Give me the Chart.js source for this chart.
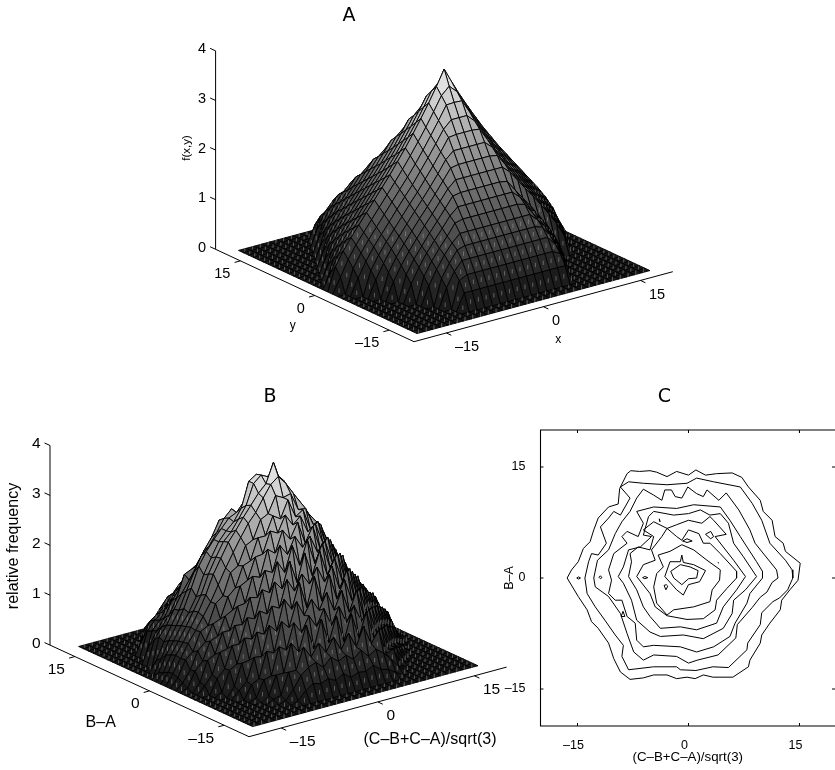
<!DOCTYPE html>
<html><head><meta charset="utf-8">
<style>html,body{margin:0;padding:0;background:#fff;width:835px;height:770px;overflow:hidden}canvas{position:absolute}</style>
<script src="https://cdn.jsdelivr.net/npm/chart.js@4"></script></head>
<body>
<canvas id="a" width="835" height="375" style="left:0;top:0"></canvas>
<canvas id="b" width="535" height="390" style="left:0;top:380px"></canvas>
<canvas id="c" width="335" height="390" style="left:500px;top:380px"></canvas>
<script>
const panelTitles=['A','B','C'];
const zTicks=[0,1,2,3,4];
const xyTicks=[-15,0,15];
const xyTickLabels=['–15','0','15'];
const labelA={x:'x',y:'y',z:'f(x,y)'};
const labelB={x:'(C–B+C–A)/sqrt(3)',y:'B–A',z:'relative frequency'};
// panel A heights (hundredths), one quadrant: rows |y| = 0..15, columns |x|/1.2 = 0..15
const quadrantA=[
[386,355,326,299,273,248,225,202,181,160,139,118,97,74,47,0],
[356,341,313,286,261,237,214,192,171,150,129,108,87,62,30,0],
[328,327,300,274,249,225,203,182,161,140,119,98,75,48,0,0],
[302,302,287,262,238,215,192,172,151,130,109,88,63,33,0,0],
[277,277,275,250,226,204,182,162,141,120,99,76,49,0,0,0],
[253,253,253,239,215,193,172,152,131,110,89,64,35,0,0,0],
[230,230,230,227,205,183,162,142,121,100,77,50,0,0,0,0],
[208,208,208,208,194,173,152,132,111,89,65,36,0,0,0,0],
[187,187,187,187,184,163,142,122,100,78,51,0,0,0,0,0],
[167,167,167,167,167,153,132,112,91,66,37,0,0,0,0,0],
[147,147,147,147,147,143,121,101,79,52,0,0,0,0,0,0],
[127,127,127,127,127,127,112,92,67,38,0,0,0,0,0,0],
[107,107,107,107,107,107,102,80,53,0,0,0,0,0,0,0],
[86,86,86,86,86,86,86,68,39,0,0,0,0,0,0,0],
[62,62,62,62,62,62,62,54,0,0,0,0,0,0,0,0],
[34,34,34,34,34,34,34,34,0,0,0,0,0,0,0,0]];
// panel B heights (hundredths): rows y = 15..-15, columns x/1.2 = -14..14
const surfaceB=[
[0,0,0,0,0,0,0,0,15,20,12,25,18,22,14,20,16,24,12,20,15,0,0,0,0,0,0,0,0],
[0,0,0,0,0,0,15,48,58,66,52,70,60,68,55,72,60,66,52,68,58,50,12,0,0,0,0,0,0],
[0,0,0,0,0,10,42,72,85,78,92,80,88,75,94,82,90,76,88,80,86,70,40,8,0,0,0,0,0],
[0,0,0,0,45,55,75,94,100,108,96,112,104,118,98,110,120,100,112,98,102,78,50,28,4,0,0,0,0],
[0,0,0,30,62,72,84,104,122,125,138,118,132,145,122,135,150,120,140,128,115,88,66,40,14,0,0,0,0],
[0,0,0,50,68,80,98,118,132,142,152,130,160,148,172,140,165,150,135,138,112,96,76,52,25,0,0,0,0],
[0,0,0,55,72,95,112,128,145,165,178,165,190,170,185,168,192,172,180,150,125,108,88,68,42,16,0,0,0],
[0,0,35,60,82,112,132,150,165,188,205,190,212,195,215,188,208,192,205,168,142,116,100,78,54,28,0,0,0],
[0,0,50,72,92,122,165,172,182,205,232,215,238,222,235,210,240,218,212,182,158,122,106,84,68,40,12,0,0],
[0,0,60,80,108,135,158,182,210,232,262,262,248,270,252,268,245,240,222,190,172,135,118,96,76,52,28,0,0],
[0,22,55,84,110,145,178,208,222,245,270,285,270,288,272,290,265,258,232,205,190,152,122,108,84,66,38,12,0],
[0,30,62,88,118,155,195,220,240,258,275,282,300,288,305,285,298,275,252,222,198,168,136,118,96,78,52,26,0],
[10,42,66,92,114,142,182,212,240,258,272,295,345,355,340,350,312,290,262,232,205,178,150,122,105,86,66,38,8],
[15,46,70,95,122,150,188,218,245,260,282,305,345,358,350,352,335,298,272,240,215,185,158,130,110,90,70,42,12],
[20,50,72,98,124,155,192,220,248,268,290,310,330,345,384,338,325,302,278,248,222,195,170,135,115,94,72,46,15],
[22,48,74,96,120,145,175,205,232,258,282,300,325,348,360,342,318,295,270,250,225,190,162,130,112,92,70,44,18],
[18,50,62,98,106,146,158,200,210,246,254,290,298,330,322,326,290,288,252,248,204,190,142,133,100,96,58,46,10],
[12,34,68,82,114,120,160,174,214,220,262,262,298,288,322,284,294,250,262,214,208,158,152,110,112,76,68,28,10],
[6,36,52,88,94,130,138,182,190,232,234,276,268,300,276,290,254,266,224,226,176,172,126,124,88,88,48,36,2],
[0,18,58,66,106,106,150,152,202,196,248,236,278,256,286,240,270,220,240,184,196,134,146,92,104,60,58,16,0],
[0,16,34,74,78,120,118,168,164,214,206,256,234,266,240,258,222,240,192,208,150,158,106,114,72,72,30,14,0],
[0,0,30,46,88,88,136,130,184,174,232,206,256,212,260,208,244,192,216,160,172,116,126,80,84,42,26,0,0],
[0,0,8,48,56,104,98,150,140,200,182,234,186,242,192,238,186,214,166,186,126,138,90,94,50,44,6,0,0],
[0,0,0,20,62,64,116,108,160,152,205,178,208,184,214,180,208,158,192,130,150,96,104,58,54,16,0,0,0],
[0,0,0,16,30,74,72,130,114,174,150,200,145,204,150,200,146,182,135,155,102,112,64,62,26,12,0,0,0],
[0,0,0,0,28,36,86,80,138,122,170,138,166,140,172,132,168,120,160,100,118,68,74,30,20,0,0,0,0],
[0,0,0,0,6,38,42,96,86,136,112,142,116,148,110,144,108,138,102,122,72,78,36,30,2,0,0,0,0],
[0,0,0,0,0,10,48,48,104,82,132,80,136,84,134,78,130,78,126,70,86,38,38,6,0,0,0,0,0],
[0,0,0,0,0,8,12,54,54,96,72,96,74,100,70,100,68,106,66,90,38,44,6,0,0,0,0,0,0],
[0,0,0,0,0,0,6,24,48,60,66,52,68,56,64,52,66,50,60,48,32,14,0,0,0,0,0,0,0],
[0,0,0,0,0,0,0,6,22,32,28,34,26,36,24,30,28,36,24,20,10,0,0,0,0,0,0,0,0]];
// panel C contour lines in data units
const contour1=[[-16.4,0],[-15.8,1.1],[-14.9,2.2],[-14.2,4],[-13.3,4.9],[-12.8,6.5],[-12.2,8.1],[-10.8,9.6],[-9.5,10],[-9.3,12.1],[-8.3,14.1],[-7.8,14.5],[-6.6,14.4],[-5.2,14.5],[-4.3,14.3],[-2.9,13.7],[-1.6,14.4],[0,13.9],[1,14.6],[2.3,13.9],[3.8,14.1],[5.9,14.2],[7.2,13.6],[8.1,12.3],[9.7,10.5],[10.1,9],[11.3,7.8],[11.7,5.6],[12.8,4.7],[13.1,3.6],[15.1,2],[14.8,-.3],[13.7,-1.6],[12.6,-3],[12.4,-4.3],[11,-6.1],[9.9,-7.7],[9.7,-8.8],[8.3,-11.1],[8.1,-12],[6,-13.4],[3.3,-13.4],[2,-13.1],[.9,-13.6],[-.2,-13.4],[-1.6,-13.6],[-2.9,-13.1],[-4.7,-13.1],[-6.1,-13.5],[-7.9,-13.7],[-9.2,-12.7],[-10.1,-10.9],[-10.8,-8.8],[-12.2,-6.8],[-13.1,-5.9],[-13.7,-4.3],[-14.9,-2.5]];
const contour2=[[-14,0],[-13.5,2.2],[-13.1,3.3],[-12.2,3.1],[-11.1,4.7],[-11.9,6.9],[-10.8,8.1],[-10.1,9],[-9.2,8.5],[-7.9,10.8],[-9.2,12.3],[-8.1,13],[-6.1,12.8],[-2.9,12.6],[-.2,12.8],[1.1,13.5],[3.4,13],[7,12.3],[8.6,10.1],[9.9,7.8],[11,4.7],[13.1,2.4],[14,1.1],[14.1,0],[13.4,-1.6],[12.3,-2.7],[11.4,-3.2],[9.9,-4.7],[9.7,-6.3],[8,-8.8],[7.9,-9.7],[5.4,-12.1],[3.3,-12],[1,-12.5],[-1.1,-12.4],[-1.6,-12],[-4.7,-12],[-8.1,-12.4],[-9,-10.6],[-8.8,-9.1],[-9.9,-7.7],[-11.3,-5.7],[-12.6,-3.9],[-13.7,-2.1]];
const contour3=[[-12.8,0],[-12.3,2.4],[-10.8,3.8],[-9.9,6],[-9,7.6],[-7.9,9],[-7,10.8],[-6.1,12],[-4.7,11.2],[-3.6,10.5],[-3.2,11.9],[-2.3,11.9],[-1.8,11],[-.9,10.8],[-.1,12.3],[1.1,11.4],[2,11],[2.5,11.9],[4.1,10.5],[5.1,11.5],[6.8,9.2],[8.3,6.5],[9,4.7],[11.9,1.1],[12.1,0],[11.3,-.6],[10.6,-1.9],[9.7,-2.6],[8.6,-4],[6.6,-6.3],[6.4,-8.1],[4,-10.4],[1.2,-11.1],[0,-11.5],[-1.6,-10.6],[-4.7,-10.4],[-6.1,-11.1],[-7.4,-10],[-8.3,-7.5],[-9.2,-4.8],[-10.8,-2.5],[-12.6,-1.2]];
const contour4=[[-10.8,-2.1],[-10.4,-.3],[-10.8,1.1],[-10.1,3.3],[-8.3,4.7],[-9,5.6],[-8.3,6.3],[-6.8,5.6],[-6.1,7.4],[-7,9],[-4.7,9.6],[-1.6,9.4],[.7,9.9],[4.3,9.6],[5.6,7.8],[7,5.6],[7.9,4.2],[9.2,2.2],[10,.9],[10,0],[8.3,-2.1],[7.9,-3.4],[6.3,-6.1],[5.6,-7.9],[3.4,-9.3],[1.1,-10],[-1.1,-9.3],[-4.7,-9.1],[-6.1,-9.3],[-7,-8.4],[-7.2,-6.1],[-8.3,-5.2],[-9,-3],[-9.9,-3]];
const contour5=[[-9.5,.2],[-8.8,1.5],[-8.1,3.8],[-6.5,4.2],[-5,5.6],[-6.1,5.8],[-5.4,8.3],[-4.7,9],[-2,8.5],[0,8.7],[1.6,9.2],[2.9,8.5],[4.3,8.7],[5.4,7.4],[6.1,4.7],[7.4,2.9],[9.2,.2],[7.7,-1.6],[6.1,-3],[5.9,-4.8],[4.7,-6.8],[2,-8.2],[-.7,-7.7],[-3.8,-7.9],[-5.2,-7.3],[-7,-5.7],[-7.7,-3],[-8.8,-.7]];
const contour6=[[-8.1,.2],[-7.7,2.2],[-7.9,3.3],[-6.8,4.2],[-5.2,3.8],[-4.7,5.6],[-6.1,6.5],[-4.7,7.6],[-2.9,6.7],[-1.6,7.2],[0,7.8],[1.8,7.4],[2.9,8.3],[3.4,7.8],[5.1,5.9],[3.6,5.6],[6.1,2.4],[7.7,.2],[6.5,-1.6],[4.7,-3.9],[3.8,-6.1],[1.1,-7],[-1.1,-6.6],[-3.8,-6.8],[-5.2,-5.2],[-6.1,-3.9],[-7,-1.6]];
const contour7=[[-7,.2],[-6.1,1.8],[-4.5,2.4],[-5,3.8],[-3.6,5.6],[-2.9,6.7],[-1.6,5.6],[-.9,5.1],[0,6.5],[1.4,6],[2,4.7],[2.9,4.7],[4.3,3.3],[6.5,.9],[6.5,0],[5.2,-1.4],[3.8,-3],[3.6,-4.3],[2,-5.5],[-.2,-5.6],[-2.9,-5.1],[-4.5,-3.9],[-5.2,-2.1]];
const contour8=[[-4.3,.6],[-3.4,1.5],[-4.1,3.1],[-2.5,3.6],[-.9,4.5],[.7,3.8],[2.5,2.4],[4.3,1.1],[4.2,-.3],[3.2,-1.6],[2.9,-3.2],[.7,-3.9],[-2,-4.3],[-2.9,-5],[-4.3,-3.4],[-4.7,-1.2]];
const contour9=[[-3.2,.2],[-2.5,2.2],[-1.1,2.2],[-.9,3.1],[-.7,2.1],[.7,1.8],[2.3,1],[1.5,-.5],[0,-.9],[-.7,-2.3],[-1.6,-1.6]];
const contour10=[[-2.4,.9],[-1.1,1.8],[.2,1.5],[1.3,1],[1.1,0],[0,-.1],[-.9,-.9],[-2,0]];
const islands=[
[[-15.1,0],[-14.85,.15],[-14.6,0],[-14.85,-.15]],
[[-12.1,.1],[-11.9,.3],[-11.7,.05],[-11.9,-.1]],
[[-9.1,-5.2],[-8.85,-4.5],[-8.6,-5.2]],
[[-6.2,.05],[-5.9,.2],[-5.5,.05],[-5.9,-.1]],
[[-3.95,8],[-3.85,7.6]],
[[-3.3,-1],[-3,-.9],[-2.8,-1.1],[-3.05,-1.6]],
[[-.8,5],[-.2,5.3],[.5,5],[-.2,4.8]],
[[2.3,5.9],[3,6.3],[3.4,5.6],[3,5.3]],
[[4,2.1],[4.1,2]]];

const sans='"Liberation Sans", Arial, sans-serif';
const makeView=(o,ex,ey,ez)=>(x,y,z)=>({x:o[0]+ex[0]*x+ey[0]*y,y:o[1]+ex[1]*x+ey[1]*y+ez*z});
const shade=z=>{const g=Math.round(255*(0.09+0.86*Math.pow(Math.min(z/3.86,1),1.22)));return `rgb(${g},${g},${g})`;};
const poly=(pts,o)=>Object.assign({data:pts,showLine:true,pointRadius:0,borderColor:'#000',borderWidth:1,tension:0,fill:false,clip:false},o||{});

function surface(view,xs,ys,zAt){
  const out=[];
  for(let j=ys.length-2;j>=0;j--){
    const seams=[];const row=[];
    for(let i=xs.length-2;i>=0;i--){
      const c=[[i,j],[i+1,j],[i+1,j+1],[i,j+1]];
      const zs=c.map(([a,b])=>zAt(a,b));
      const pts=c.map(([a,b],k)=>view(xs[a],ys[b],zs[k]));
      pts.push(pts[0]);
      const avg=(zs[0]+zs[1]+zs[2]+zs[3])/4;
      row.push(poly(pts,{fill:'shape',backgroundColor:shade(avg),borderWidth:0.9,borderJoinStyle:'round'}));
      if(avg<1.2){const m=view((xs[i]+xs[i+1])/2,(ys[j]+ys[j+1])/2,avg);
        seams.push({x:m.x,y:m.y-2.2},{x:m.x,y:m.y+2.2},{x:m.x,y:null});}
    }
    out.push(...row);
    if(seams.length)out.push(poly(seams,{borderColor:'rgba(170,170,170,0.32)',borderWidth:0.6,spanGaps:false}));
  }
  return out;
}
function axes3d(view){
  const out=[];
  const L=20;
  out.push(poly([view(-L,L,0),view(-L,L,4)]));
  out.push(poly([view(-L,L,0),view(-L,-L,0)]));
  out.push(poly([view(-L,-L,0),view(L,-L,0)]));
  zTicks.forEach(t=>out.push(poly([view(-L,L,t),view(-L,L+1.1,t)])));
  xyTicks.forEach(t=>{out.push(poly([view(-L,t,0),view(-L-0.9,t,0)]));out.push(poly([view(t,-L,0),view(t,-L-1,0)]));});
  return out;
}
function textPlugin(items){return {id:'panelText',afterDraw(chart){const c=chart.ctx;c.save();c.fillStyle='#000';
  items.forEach(t=>{c.save();c.font=t.font;c.textAlign=t.align||'center';c.textBaseline='middle';c.translate(t.x,t.y);if(t.rot)c.rotate(t.rot);c.fillText(t.text,0,0);c.restore();});c.restore();}};}
function tickTexts(view,font,panelLabels){
  const out=[];
  zTicks.forEach(t=>{const p=view(-20,20,t);out.push({text:String(t),x:p.x-9.5,y:p.y-1.5,align:'right',font});});
  xyTicks.forEach((t,k)=>{
    const a=view(-20,t,0);out.push({text:xyTickLabels[k],x:a.x-10,y:a.y+13,align:'right',font});
    const b=view(t,-20,0);out.push({text:xyTickLabels[k],x:b.x+8.6,y:b.y+14.2,align:'left',font});
  });
  return out.concat(panelLabels);
}
function surfaceChart(id,w,h,datasets,texts){
  return new Chart(document.getElementById(id),{type:'scatter',data:{datasets:datasets.reverse()},plugins:[textPlugin(texts)],
    options:{responsive:false,animation:false,events:[],layout:{padding:0},
      plugins:{legend:{display:false},tooltip:{enabled:false},title:{display:false}},
      scales:{x:{type:'linear',min:0,max:w,display:false},y:{type:'linear',min:0,max:h,reverse:true,display:false}}}});
}
// Panel A
const xNodesA=[];for(let i=-15;i<=15;i++)xNodesA.push(i*1.2);
const yNodesA=[];for(let j=-18;j<=18;j++)yNodesA.push(j);
const viewA=makeView([444.2,260.5],[6.47,-1.75],[-4.96,-2.31],-49.6);
const zA=(a,b)=>{const ry=Math.abs(b-18);const r=quadrantA[ry];if(!r)return 0;const col=a>15?(a-15)+(ry>=8?1:0):15-a;return (r[col]||0)/100;};
surfaceChart('a',835,375,[...axes3d(viewA),...surface(viewA,xNodesA,yNodesA,zA)],tickTexts(viewA,'14.5px '+sans,[
  {text:panelTitles[0],x:349,y:16,font:'19px "DejaVu Sans"'},
  {text:labelA.z,x:187,y:148,rot:-Math.PI/2,font:'11.5px '+sans},
  {text:labelA.y,x:292.7,y:326,font:'12px '+sans},
  {text:labelA.x,x:558.3,y:340,font:'12px '+sans}]));
// Panel B
const spanB=0.972;
const xNodesB=[];for(let i=-15;i<=15;i++)xNodesB.push(i*1.2*spanB);
const yNodesB=[];for(let j=-18;j<=18;j++)yNodesB.push(j*spanB);
const viewB=makeView([278.3,276.1],[6.44,-1.74],[-4.975,-2.29],-49.9);
const zB=(a,b)=>{const r=surfaceB[15-(b-18)];if(!r)return 0;return (r[a-15+14]||0)/100;};
surfaceChart('b',535,390,[...axes3d(viewB),...surface(viewB,xNodesB,yNodesB,zB)],tickTexts(viewB,'15.5px '+sans,[
  {text:panelTitles[1],x:270,y:17,font:'19px "DejaVu Sans"'},
  {text:labelB.z,x:14,y:166,rot:-Math.PI/2,font:'16px '+sans},
  {text:labelB.y,x:100.7,y:342.7,font:'16px '+sans},
  {text:labelB.x,x:430,y:359.3,font:'16px '+sans}]));
// Panel C
const lines=[contour1,contour2,contour3,contour4,contour5,contour6,contour7,contour8,contour9,contour10,...islands];
const toPts=a=>a.concat([a[0]]).map(p=>({x:p[0],y:p[1]}));
const xLo=-20,xHi=19.8,yLo=-20,yHi=20,tk=0.4;
const frame=poly([{x:xHi,y:yLo},{x:xLo,y:yLo},{x:xLo,y:yHi},{x:xHi,y:yHi}],{borderWidth:1.1});
const tickPts=[];
xyTicks.forEach(t=>{tickPts.push({x:t,y:yLo},{x:t,y:yLo+tk},{x:t,y:null},{x:t,y:yHi},{x:t,y:yHi-tk},{x:t,y:null});
  tickPts.push({x:xLo,y:t},{x:xLo+tk,y:t},{x:xLo,y:null},{x:xHi,y:t},{x:xHi-tk,y:t},{x:xHi,y:null});});
const fontC={family:sans,size:12.5};
new Chart(document.getElementById('c'),{type:'scatter',
  data:{datasets:[...lines.map(l=>poly(toPts(l),{borderWidth:1,clip:true})),frame,poly(tickPts,{spanGaps:false})]},
  plugins:[textPlugin([{text:panelTitles[2],x:164.3,y:17,font:'19px "DejaVu Sans"'}])],
  options:{responsive:false,animation:false,events:[],layout:{padding:{top:50,right:0,left:0,bottom:0}},
    plugins:{legend:{display:false},tooltip:{enabled:false}},
    scales:{
      x:{type:'linear',min:xLo,max:xHi,grid:{display:false},border:{display:false},
        afterBuildTicks:s=>{s.ticks=xyTicks.map(v=>({value:v}));},afterFit:s=>{s.height=44;},
        ticks:{autoSkip:false,maxRotation:0,padding:4,labelOffset:-4,color:'#000',font:fontC,callback:v=>xyTickLabels[xyTicks.indexOf(v)]},
        title:{display:true,text:labelB.x,color:'#000',font:{family:sans,size:13.3},padding:{top:2,bottom:5}}},
      y:{type:'linear',min:yLo,max:yHi,grid:{display:false},border:{display:false},
        afterBuildTicks:s=>{s.ticks=xyTicks.map(v=>({value:v}));},afterFit:s=>{s.width=40.5;},
        ticks:{autoSkip:false,padding:7,color:'#000',font:fontC,callback:v=>xyTickLabels[xyTicks.indexOf(v)]},
        title:{display:true,text:labelB.y,color:'#000',font:{family:sans,size:12.5},padding:{top:2,bottom:0}}}
    }}});
</script>
</body></html>
